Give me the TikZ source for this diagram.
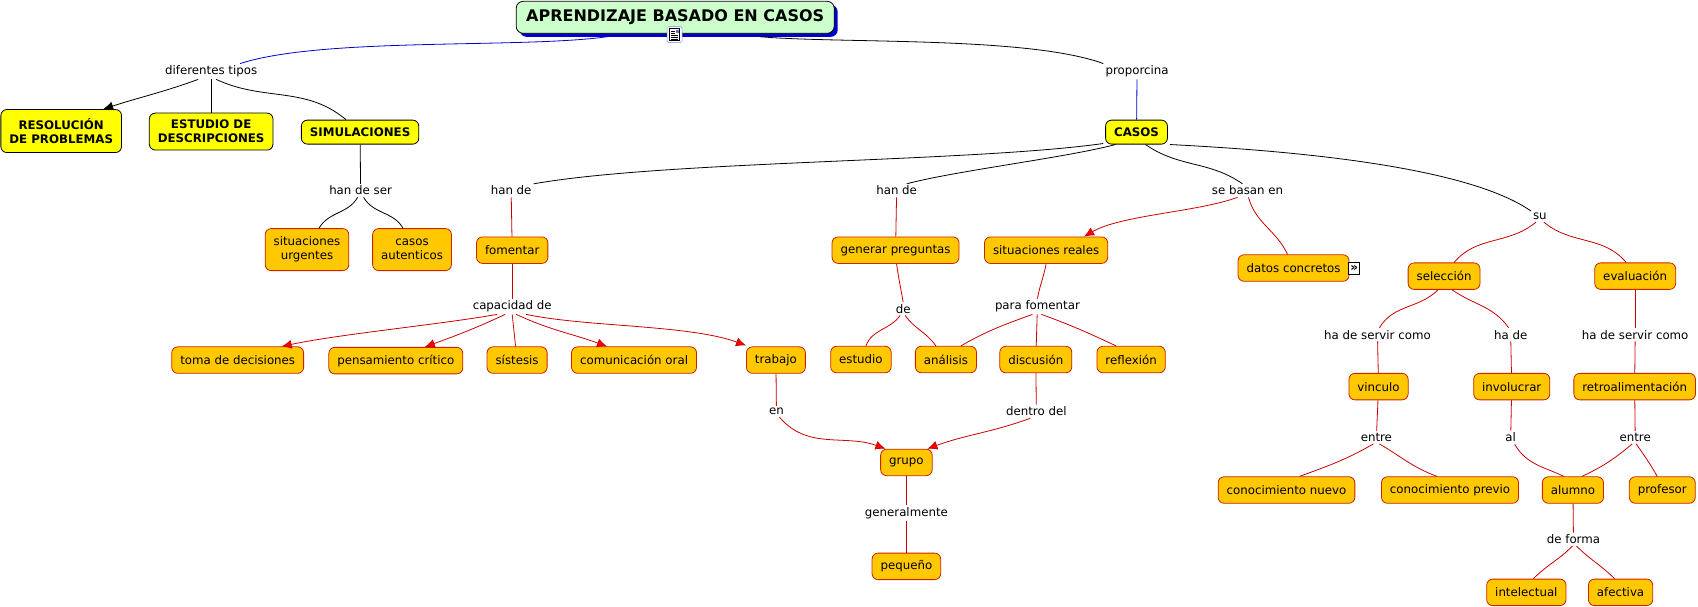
\documentclass[tikz,border=0pt]{standalone}
\usepackage{fontspec}
\setmainfont{DejaVu Sans}
\usepackage{tikz}
\usetikzlibrary{arrows.meta,shadows}
\definecolor{cmorange}{RGB}{255,200,0}
\definecolor{cmborde}{RGB}{204,34,0}
\definecolor{cmyellow}{RGB}{255,255,0}
\definecolor{cmgreen}{RGB}{204,255,204}
\definecolor{cmblue}{RGB}{0,0,204}
\definecolor{cmred}{RGB}{204,0,0}
\definecolor{cmtip}{RGB}{255,0,0}
\newcommand{\mapfont}{\fontsize{11.8}{14}\selectfont}

\begin{document}
\begin{tikzpicture}[x=1.083pt,y=-1.083pt,
  concepto/.style={draw=cmborde,fill=cmorange,rounded corners=6pt,line width=0.8pt,inner xsep=8.5pt,inner ysep=3pt,minimum height=26.5pt,font=\mapfont},
  principal/.style={concepto,draw=black,fill=cmyellow,minimum height=24pt,font=\mapfont\bfseries},
  frase/.style={inner sep=2pt,font=\mapfont},
  rojo/.style={cmred,line width=0.8pt,>={Latex[length=10pt,width=9pt,fill=cmtip]}},
  negro/.style={black,line width=0.8pt},
  azul/.style={cmblue,line width=0.8pt},
  >={Latex[length=10pt,width=9pt]}]
\fill [white] (0,0) rectangle (1568,560.5);
\useasboundingbox (0,0) rectangle (1568,560.5);

\node [principal,fill=cmgreen,minimum height=32pt,rounded corners=7pt,inner xsep=10pt,font=\fontsize{16}{19}\selectfont\bfseries,drop shadow={fill=cmblue,shadow xshift=3.5pt,shadow yshift=-3.5pt,opacity=1}] (titulo) at (623.5,16) {APRENDIZAJE BASADO EN CASOS};
\node [frase] (tipos) at (195,66) {diferentes tipos};
\node [frase] (proporcina) at (1050,66) {proporcina};
\node [principal,align=center,minimum height=43pt] (resolucion) at (56.5,121) {RESOLUCIÓN\\DE PROBLEMAS};
\node [principal,align=center,minimum height=37pt] (descripciones) at (195,121.5) {ESTUDIO DE\\DESCRIPCIONES};
\node [principal] (simulaciones) at (332.5,122) {SIMULACIONES};
\node [principal] (casos) at (1049.5,122) {CASOS};
\node [frase] (hanser) at (333,176) {han de ser};
\node [frase] (hande1) at (472,176) {han de};
\node [frase] (hande2) at (828,176) {han de};
\node [frase] (basan) at (1152,176) {se basan en};
\node [frase] (su) at (1422,200) {su};
\node [concepto,align=center,minimum height=42pt] (urgentes) at (283.5,230.5) {situaciones\\urgentes};
\node [concepto,align=center,minimum height=42pt] (autenticos) at (380.5,230.5) {casos\\autenticos};
\node [concepto] (fomentar) at (473,231) {fomentar};
\node [concepto] (preguntas) at (827,231) {generar preguntas};
\node [concepto] (reales) at (966,231) {situaciones reales};
\node [concepto] (datos) at (1194.5,247.5) {datos concretos};
\node [concepto] (seleccion) at (1333.5,255) {selección};
\node [concepto] (evaluacion) at (1510,255) {evaluación};
\node [frase] (capacidad) at (473,283) {capacidad de};
\node [frase] (de) at (834,285) {de};
\node [frase] (parafomentar) at (958,283) {para fomentar};
\node [concepto] (decisiones) at (219.5,332.5) {toma de decisiones};
\node [concepto] (pensamiento) at (365.5,333) {pensamiento crítico};
\node [concepto] (sistesis) at (477.5,332.5) {sístesis};
\node [concepto] (comunicacion) at (585.5,332.5) {comunicación oral};
\node [concepto] (trabajo) at (716.5,332.5) {trabajo};
\node [concepto] (estudio) at (795,332) {estudio};
\node [concepto] (analisis) at (873.5,332) {análisis};
\node [concepto] (discusion) at (956.5,332) {discusión};
\node [concepto] (reflexion) at (1044.5,332) {reflexión};
\node [frase] (servir1) at (1272,309) {ha de servir como};
\node [frase] (hade3) at (1395,309) {ha de};
\node [frase] (servir2) at (1510,309) {ha de servir como};
\node [concepto] (vinculo) at (1273,357) {vinculo};
\node [concepto] (involucrar) at (1396,357) {involucrar};
\node [concepto] (retro) at (1509.5,357) {retroalimentación};
\node [frase] (en) at (717,380) {en};
\node [frase] (dentro) at (957,380) {dentro del};
\node [frase] (entre1) at (1271,404) {entre};
\node [frase] (al) at (1395,404) {al};
\node [frase] (entre2) at (1510,404) {entre};
\node [concepto] (grupo) at (837,427) {grupo};
\node [concepto] (nuevo) at (1188,452.5) {conocimiento nuevo};
\node [concepto] (previo) at (1339,452.5) {conocimiento previo};
\node [concepto] (alumno) at (1452.5,452.5) {alumno};
\node [concepto] (profesor) at (1535,452.5) {profesor};
\node [frase] (generalmente) at (837,474) {generalmente};
\node [frase] (deforma) at (1453,498) {de forma};
\node [concepto] (pequeno) at (837,523) {pequeño};
\node [concepto] (intelectual) at (1409.5,547) {intelectual};
\node [concepto] (afectiva) at (1496.5,547) {afectiva};

\node [draw=cmblue!50,fill=white,rounded corners=1.5pt,minimum width=15pt,minimum height=16pt,inner sep=0pt] (icono) at (623,32) {};
\draw [fill=white,line width=0.5pt] ([xshift=-5pt,yshift=-6pt]icono.center) rectangle ([xshift=5pt,yshift=6pt]icono.center);
\fill [cmblue!60] ([xshift=1pt,yshift=1.5pt]icono.center) rectangle ([xshift=4pt,yshift=5pt]icono.center);
\foreach \d in {-4.5,-2.5,-0.5} \draw [line width=0.6pt] ([xshift=-3.5pt,yshift=\d pt]icono.center) -- ([xshift=3.5pt,yshift=\d pt]icono.center);
\foreach \d in {1.5,3.5} \draw [line width=0.6pt] ([xshift=-3.5pt,yshift=\d pt]icono.center) -- ([xshift=0pt,yshift=\d pt]icono.center);
\node [draw,fill=white,line width=0.6pt,inner sep=0pt,minimum width=11pt,minimum height=12pt,font=\fontsize{12}{12}\selectfont\bfseries] (enlace) at (1250.5,248) {»};

\draw [azul] ([xshift=-68pt,yshift=-3pt]titulo.south) to[out=188,in=18,looseness=0.6] ([xshift=29pt]tipos.north);
\draw [negro] ([xshift=85pt,yshift=-3pt]titulo.south) to[out=-5,in=160,looseness=0.6] (proporcina.north west);
\draw [azul] (proporcina) -- (casos);
\draw [negro,->] ([xshift=-13pt]tipos.south) to[out=200,in=18] ([xshift=42pt]resolucion.north);
\draw [negro] (tipos) -- (descripciones);
\draw [negro] ([xshift=5pt]tipos.south) to[out=-25,in=140] ([xshift=-14pt]simulaciones.north);
\draw [negro] (simulaciones) -- (hanser);
\draw [negro] ([xshift=-3pt]hanser.south) to[out=240,in=60] ([xshift=12pt]urgentes.north);
\draw [negro] ([xshift=3pt]hanser.south) to[out=-60,in=120] ([xshift=-9pt]autenticos.north);
\draw [negro] ([xshift=-2pt,yshift=1pt]casos.south west) to[out=188,in=10,looseness=0.6] (hande1.north east);
\draw [negro] ([xshift=-21pt]casos.south) to[out=195,in=15,looseness=0.6] ([xshift=10pt]hande2.north);
\draw [negro] ([xshift=9pt]casos.south) to[out=-35,in=145] ([xshift=-5pt]basan.north);
\draw [negro] ([xshift=2pt]casos.south east) to[out=-3,in=145,looseness=0.6] (su.north west);

\draw [rojo] (hande1) -- (fomentar);
\draw [rojo] (hande2) -- (preguntas);
\draw [rojo,->] ([xshift=-10pt]basan.south) to[out=200,in=30,looseness=0.7] ([xshift=38pt]reales.north);
\draw [rojo] ([xshift=1pt]basan.south) to[out=-75,in=115] ([xshift=-6pt]datos.north);
\draw [rojo] ([xshift=-4pt]su.south) to[out=220,in=50] ([xshift=10pt]seleccion.north);
\draw [rojo] ([xshift=4pt]su.south) to[out=-40,in=130] ([xshift=-9pt]evaluacion.north);
\draw [rojo] (fomentar) -- (capacidad);
\draw [rojo,->] ([xshift=-15pt]capacidad.south) to[out=190,in=12,looseness=0.7] ([xshift=44pt]decisiones.north);
\draw [rojo,->] ([xshift=-7pt]capacidad.south) to[out=205,in=20] ([xshift=29pt]pensamiento.north);
\draw [rojo] (capacidad.south) -- ([xshift=-1.5pt]sistesis.north);
\draw [rojo,->] ([xshift=4pt]capacidad.south) to[out=-25,in=160] ([xshift=-27pt]comunicacion.north);
\draw [rojo,->] ([xshift=14pt]capacidad.south) to[out=-12,in=160,looseness=0.7] ([yshift=1pt]trabajo.north west);
\draw [rojo] ([xshift=1pt]preguntas.south) to[out=-82,in=100] (de.north);
\draw [rojo] ([xshift=-3pt]de.south) to[out=235,in=70] ([xshift=5pt]estudio.north);
\draw [rojo] ([xshift=2pt]de.south) to[out=-55,in=125] ([xshift=-10pt]analisis.north);
\draw [rojo] (reales.south) to[out=-100,in=80] (parafomentar.north);
\draw [rojo] ([xshift=-5pt]parafomentar.south) to[out=200,in=30] ([xshift=15pt]analisis.north);
\draw [rojo] (parafomentar) -- (discusion);
\draw [rojo] ([xshift=4pt]parafomentar.south) to[out=-20,in=155] ([xshift=-15pt]reflexion.north);
\draw [rojo] (trabajo) -- (en);
\draw [rojo,->] ([xshift=3pt]en.south) to[out=-50,in=160] ([xshift=-21pt]grupo.north);
\draw [rojo] (discusion) -- (dentro);
\draw [rojo,->] ([xshift=-6pt]dentro.south) to[out=200,in=20] ([xshift=21pt]grupo.north);
\draw [rojo] (grupo) -- (generalmente);
\draw [rojo] (generalmente) -- (pequeno);

\draw [rojo] ([xshift=-6pt]seleccion.south) to[out=225,in=60] ([xshift=2pt]servir1.north);
\draw [rojo] ([xshift=8pt]seleccion.south) to[out=-35,in=125] ([xshift=-2pt]hade3.north);
\draw [rojo] (evaluacion) -- (servir2);
\draw [rojo] (servir1) -- (vinculo);
\draw [rojo] (hade3) -- (involucrar);
\draw [rojo] (servir2) -- (retro);
\draw [rojo] (vinculo) -- (entre1);
\draw [rojo] (involucrar) -- (al);
\draw [rojo] (retro) -- (entre2);
\draw [rojo] ([xshift=-3pt]entre1.south) to[out=210,in=20] ([xshift=13pt]nuevo.north);
\draw [rojo] ([xshift=3pt]entre1.south) to[out=-30,in=160] ([xshift=-13pt]previo.north);
\draw [rojo] ([xshift=4pt]al.south) to[out=-60,in=155] ([xshift=-9pt]alumno.north);
\draw [rojo] ([xshift=-3pt]entre2.south) to[out=220,in=25] ([xshift=9pt]alumno.north);
\draw [rojo] ([xshift=1pt]entre2.south) to[out=-55,in=120] ([xshift=-5pt]profesor.north);
\draw [rojo] (alumno) -- (deforma);
\draw [rojo] ([xshift=-1pt]deforma.south) to[out=225,in=45] ([xshift=7pt]intelectual.north);
\draw [rojo] ([xshift=3pt]deforma.south) to[out=-45,in=135] ([xshift=-6pt]afectiva.north);
\end{tikzpicture}
\end{document}
